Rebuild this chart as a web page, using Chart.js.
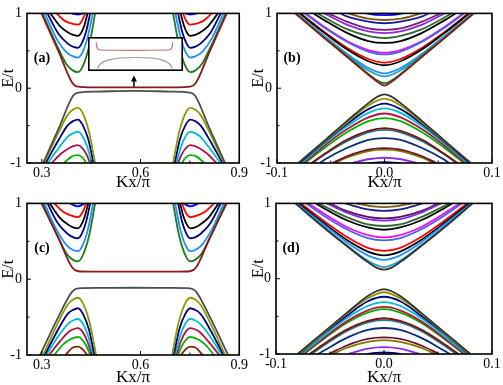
<!DOCTYPE html>
<html lang="en">
<head>
<meta charset="UTF-8">
<title>E/t vs Kx/π</title>
<script src="https://cdn.jsdelivr.net/npm/chart.js"></script>
<style>
  body { margin: 0; background: #fff; }
  #wrap { position: relative; width: 503px; height: 385px; }
  canvas { position: absolute; }
  #inset { background: #fff; }
</style>
</head>
<body>
<div id="wrap">
  <canvas id="panelA" width="250" height="190" style="left:0;top:0"></canvas>
  <canvas id="panelB" width="253" height="190" style="left:250px;top:0"></canvas>
  <canvas id="panelC" width="250" height="195" style="left:0;top:190px"></canvas>
  <canvas id="panelD" width="253" height="195" style="left:250px;top:190px"></canvas>
  <canvas id="inset" width="95" height="34" style="left:88px;top:37px"></canvas>
</div>
<script>
// ---- data ([Kx/pi, E/t] points) ----

// tick values
const ticksKxA = [0.3, 0.6, 0.9];
const minorKxA = [0.45, 0.75];
const ticksKxB = [-0.1, 0, 0.1];
const minorKxB = [-0.05, 0.05];
const ticksE = [-1, 0, 1];
const minorE = [-0.5, 0.5];

// panel (a): conduction bands, each band = one or two valleys
const condA = [
  [[[0.299,1],[0.35,0.50],[0.393,0.07],[0.41,0.02],[0.45,0.012],[0.58,0.01],[0.711,0.012],[0.751,0.02],[0.768,0.07],[0.811,0.50],[0.862,1]]],
  [[[0.302,1],[0.345,0.58],[0.375,0.32],[0.395,0.235],[0.41,0.215],[0.426,0.309],[0.444,0.568],[0.462,1]],
   [[0.699,1],[0.717,0.568],[0.735,0.309],[0.751,0.215],[0.766,0.235],[0.786,0.32],[0.816,0.58],[0.859,1]]],
  [[[0.309,1],[0.345,0.66],[0.375,0.48],[0.395,0.425],[0.41,0.41],[0.424,0.481],[0.439,0.676],[0.455,1]],
   [[0.706,1],[0.722,0.676],[0.737,0.481],[0.751,0.41],[0.766,0.425],[0.786,0.48],[0.816,0.66],[0.852,1]]],
  [[[0.317,1],[0.35,0.73],[0.378,0.60],[0.396,0.552],[0.41,0.54],[0.421,0.595],[0.434,0.747],[0.447,1]],
   [[0.714,1],[0.727,0.747],[0.74,0.595],[0.751,0.54],[0.765,0.552],[0.783,0.60],[0.811,0.73],[0.844,1]]],
  [[[0.326,1],[0.355,0.83],[0.38,0.745],[0.397,0.71],[0.41,0.70],[0.419,0.736],[0.429,0.835],[0.439,1]],
   [[0.722,1],[0.732,0.835],[0.742,0.736],[0.751,0.70],[0.764,0.71],[0.781,0.745],[0.806,0.83],[0.835,1]]],
  [[[0.345,1],[0.37,0.90],[0.395,0.86],[0.41,0.85],[0.417,0.868],[0.424,0.918],[0.432,1]],
   [[0.729,1],[0.737,0.918],[0.744,0.868],[0.751,0.85],[0.766,0.86],[0.791,0.90],[0.816,1]]],
  [[[0.39,1],[0.41,0.985],[0.425,1]], [[0.736,1],[0.751,0.985],[0.771,1]]]
];
const colorsCondA = ['#8b1a1a', '#1e7b1e', '#1e90ff', '#000080', '#000000', '#ff0000', '#0000ff'];

// panel (a): valence bands
const valA = [
  [[[0.304,-1],[0.352,-0.53],[0.395,-0.10],[0.41,-0.06],[0.47,-0.045],[0.58,-0.035],[0.691,-0.045],[0.751,-0.06],[0.766,-0.10],[0.809,-0.53],[0.857,-1]]],
  [[[0.307,-1],[0.35,-0.60],[0.378,-0.36],[0.395,-0.285],[0.41,-0.263],[0.426,-0.35],[0.444,-0.595],[0.462,-1]],
   [[0.699,-1],[0.717,-0.595],[0.735,-0.35],[0.751,-0.263],[0.766,-0.285],[0.783,-0.36],[0.811,-0.60],[0.854,-1]]],
  [[[0.312,-1],[0.35,-0.70],[0.378,-0.50],[0.395,-0.44],[0.41,-0.42],[0.424,-0.49],[0.441,-0.68],[0.457,-1]],
   [[0.704,-1],[0.72,-0.68],[0.737,-0.49],[0.751,-0.42],[0.766,-0.44],[0.783,-0.50],[0.811,-0.70],[0.849,-1]]],
  [[[0.318,-1],[0.355,-0.78],[0.38,-0.645],[0.396,-0.60],[0.41,-0.585],[0.423,-0.635],[0.437,-0.77],[0.452,-1]],
   [[0.709,-1],[0.724,-0.77],[0.738,-0.635],[0.751,-0.585],[0.765,-0.60],[0.781,-0.645],[0.806,-0.78],[0.843,-1]]],
  [[[0.33,-1],[0.36,-0.87],[0.385,-0.795],[0.398,-0.77],[0.41,-0.76],[0.421,-0.79],[0.434,-0.868],[0.447,-1]],
   [[0.714,-1],[0.727,-0.868],[0.74,-0.79],[0.751,-0.76],[0.763,-0.77],[0.776,-0.795],[0.801,-0.87],[0.831,-1]]],
  [[[0.368,-1],[0.39,-0.915],[0.41,-0.895],[0.42,-0.915],[0.428,-0.95],[0.435,-1]],
   [[0.726,-1],[0.733,-0.95],[0.741,-0.915],[0.751,-0.895],[0.771,-0.915],[0.793,-1]]]
];
const colorsValA = ['#4d4d4d', '#8c9a00', '#000080', '#00bcd4', '#b3123e', '#00b300'];

// panel (c)
const condC = [
  [[[0.299,1],[0.35,0.55],[0.393,0.15],[0.41,0.105],[0.45,0.10],[0.58,0.10],[0.711,0.10],[0.751,0.105],[0.768,0.15],[0.811,0.55],[0.862,1]]],
  [[[0.302,1],[0.345,0.59],[0.375,0.34],[0.395,0.255],[0.41,0.235],[0.426,0.327],[0.444,0.579],[0.462,1]],
   [[0.699,1],[0.717,0.579],[0.735,0.327],[0.751,0.235],[0.766,0.255],[0.786,0.34],[0.816,0.59],[0.859,1]]],
  [[[0.308,1],[0.345,0.65],[0.375,0.45],[0.395,0.385],[0.41,0.37],[0.424,0.446],[0.44,0.654],[0.456,1]],
   [[0.705,1],[0.721,0.654],[0.737,0.446],[0.751,0.37],[0.766,0.385],[0.786,0.45],[0.816,0.65],[0.853,1]]],
  [[[0.317,1],[0.35,0.73],[0.378,0.60],[0.396,0.552],[0.41,0.54],[0.421,0.595],[0.434,0.747],[0.447,1]],
   [[0.714,1],[0.727,0.747],[0.74,0.595],[0.751,0.54],[0.765,0.552],[0.783,0.60],[0.811,0.73],[0.844,1]]],
  [[[0.324,1],[0.355,0.81],[0.38,0.72],[0.397,0.68],[0.41,0.67],[0.419,0.71],[0.43,0.82],[0.441,1]],
   [[0.72,1],[0.731,0.82],[0.742,0.71],[0.751,0.67],[0.764,0.68],[0.781,0.72],[0.806,0.81],[0.837,1]]],
  [[[0.338,1],[0.365,0.89],[0.392,0.835],[0.41,0.82],[0.418,0.842],[0.426,0.90],[0.435,1]],
   [[0.726,1],[0.735,0.90],[0.743,0.842],[0.751,0.82],[0.769,0.835],[0.796,0.89],[0.823,1]]],
  [[[0.385,1],[0.41,0.96],[0.43,1]], [[0.731,1],[0.751,0.96],[0.776,1]]]
];
const colorsCondC = colorsCondA;

const valC = [
  [[[0.295,-1],[0.35,-0.50],[0.393,-0.16],[0.41,-0.12],[0.47,-0.115],[0.58,-0.113],[0.691,-0.115],[0.751,-0.12],[0.768,-0.16],[0.811,-0.50],[0.866,-1]]],
  [[[0.304,-1],[0.35,-0.57],[0.378,-0.34],[0.395,-0.267],[0.41,-0.245],[0.427,-0.336],[0.446,-0.585],[0.465,-1]],
   [[0.696,-1],[0.715,-0.585],[0.734,-0.336],[0.751,-0.245],[0.766,-0.267],[0.783,-0.34],[0.811,-0.57],[0.857,-1]]],
  [[[0.309,-1],[0.35,-0.66],[0.378,-0.46],[0.395,-0.405],[0.41,-0.383],[0.425,-0.457],[0.443,-0.661],[0.46,-1]],
   [[0.701,-1],[0.718,-0.661],[0.736,-0.457],[0.751,-0.383],[0.766,-0.405],[0.783,-0.46],[0.811,-0.66],[0.852,-1]]],
  [[[0.314,-1],[0.352,-0.74],[0.38,-0.59],[0.396,-0.542],[0.41,-0.525],[0.424,-0.582],[0.44,-0.739],[0.456,-1]],
   [[0.705,-1],[0.721,-0.739],[0.737,-0.582],[0.751,-0.525],[0.765,-0.542],[0.781,-0.59],[0.809,-0.74],[0.847,-1]]],
  [[[0.322,-1],[0.357,-0.81],[0.383,-0.69],[0.398,-0.657],[0.41,-0.645],[0.423,-0.688],[0.437,-0.805],[0.452,-1]],
   [[0.709,-1],[0.724,-0.805],[0.738,-0.688],[0.751,-0.645],[0.763,-0.657],[0.778,-0.69],[0.804,-0.81],[0.839,-1]]],
  [[[0.338,-1],[0.365,-0.86],[0.388,-0.79],[0.40,-0.77],[0.41,-0.761],[0.421,-0.79],[0.434,-0.868],[0.447,-1]],
   [[0.714,-1],[0.727,-0.868],[0.74,-0.79],[0.751,-0.761],[0.761,-0.77],[0.773,-0.79],[0.796,-0.86],[0.823,-1]]],
  [[[0.372,-1],[0.393,-0.905],[0.41,-0.89],[0.42,-0.91],[0.429,-0.95],[0.438,-1]],
   [[0.723,-1],[0.732,-0.95],[0.741,-0.91],[0.751,-0.89],[0.768,-0.905],[0.789,-1]]]
];
const colorsValC = ['#4d4d4d', '#8c9a00', '#000080', '#00bcd4', '#b3123e', '#00b300', '#8b2500'];

// panels (b) and (d) are symmetric about Kx = 0: only the Kx >= 0 half is listed
const condB = [
  [[0,0.035],[0.006,0.08],[0.015,0.18],[0.035,0.42],[0.055,0.66],[0.083,1]],
  [[0,0.066],[0.006,0.10],[0.015,0.19],[0.035,0.43],[0.055,0.66],[0.083,1]],
  [[0,0.158],[0.015,0.24],[0.035,0.45],[0.055,0.68],[0.082,1]],
  [[0,0.197],[0.015,0.27],[0.035,0.46],[0.055,0.69],[0.082,1]],
  [[0,0.307],[0.015,0.36],[0.035,0.52],[0.055,0.73],[0.079,1]],
  [[0,0.342],[0.015,0.39],[0.035,0.54],[0.055,0.74],[0.078,1]],
  [[0,0.452],[0.015,0.49],[0.035,0.62],[0.055,0.80],[0.074,1]],
  [[0,0.474],[0.015,0.51],[0.035,0.63],[0.055,0.81],[0.073,1]],
  [[0,0.605],[0.015,0.63],[0.035,0.74],[0.055,0.90],[0.066,1]],
  [[0,0.671],[0.015,0.70],[0.035,0.79],[0.055,0.94],[0.062,1]],
  [[0,0.737],[0.015,0.76],[0.035,0.85],[0.056,1]],
  [[0,0.78],[0.015,0.80],[0.035,0.89],[0.052,1]],
  [[0,0.868],[0.015,0.89],[0.035,0.96],[0.041,1]],
  [[0,0.912],[0.015,0.93],[0.034,1]],
  [[0,0.978],[0.008,0.98],[0.017,1]]
];
const colorsCondB = ['#8b1a1a', '#1e7b1e', '#1fa0c0', '#1e90ff', '#000000', '#ff0000', '#4169e1', '#ff00ff',
  '#000000', '#2e6b2e', '#8a2be2', '#7a1f7a', '#1c1c8c', '#7a5a10', '#0000ff'];

const valB = [
  [[0,-0.083],[0.006,-0.11],[0.015,-0.20],[0.035,-0.44],[0.055,-0.69],[0.080,-1]],
  [[0,-0.14],[0.015,-0.23],[0.035,-0.46],[0.055,-0.70],[0.080,-1]],
  [[0,-0.206],[0.015,-0.28],[0.035,-0.48],[0.055,-0.71],[0.079,-1]],
  [[0,-0.27],[0.015,-0.33],[0.035,-0.51],[0.055,-0.73],[0.077,-1]],
  [[0,-0.338],[0.015,-0.39],[0.035,-0.55],[0.055,-0.76],[0.075,-1]],
  [[0,-0.40],[0.015,-0.44],[0.035,-0.59],[0.055,-0.79],[0.074,-1]],
  [[0,-0.535],[0.015,-0.57],[0.035,-0.69],[0.055,-0.87],[0.068,-1]],
  [[0,-0.557],[0.015,-0.59],[0.035,-0.71],[0.055,-0.88],[0.067,-1]],
  [[0,-0.667],[0.015,-0.69],[0.035,-0.80],[0.055,-0.95],[0.060,-1]],
  [[0,-0.80],[0.015,-0.82],[0.035,-0.91],[0.048,-1]],
  [[0,-0.82],[0.015,-0.84],[0.035,-0.93],[0.046,-1]],
  [[0,-0.93],[0.015,-0.95],[0.030,-1]],
  [[0,-0.99],[0.008,-0.995],[0.015,-1]]
];
const colorsValB = ['#333333', '#8c9a00', '#000080', '#00bcd4', '#b3123e', '#00b300', '#7a1010', '#1f7a8c',
  '#0a2a7a', '#6b0f2a', '#7a7a00', '#8a2be2', '#000080'];

const condD = [
  [[0,0.12],[0.006,0.14],[0.015,0.22],[0.035,0.44],[0.055,0.67],[0.082,1]],
  [[0,0.155],[0.015,0.24],[0.035,0.45],[0.055,0.68],[0.082,1]],
  [[0,0.25],[0.015,0.31],[0.035,0.49],[0.055,0.71],[0.081,1]],
  [[0,0.31],[0.015,0.36],[0.035,0.52],[0.055,0.73],[0.079,1]],
  [[0,0.37],[0.015,0.41],[0.035,0.56],[0.055,0.76],[0.077,1]],
  [[0,0.51],[0.015,0.54],[0.035,0.66],[0.055,0.83],[0.072,1]],
  [[0,0.55],[0.015,0.58],[0.035,0.69],[0.055,0.86],[0.070,1]],
  [[0,0.65],[0.015,0.68],[0.035,0.78],[0.055,0.93],[0.063,1]],
  [[0,0.70],[0.015,0.72],[0.035,0.82],[0.055,0.96],[0.060,1]],
  [[0,0.77],[0.015,0.79],[0.035,0.88],[0.053,1]],
  [[0,0.80],[0.015,0.82],[0.035,0.90],[0.050,1]],
  [[0,0.90],[0.015,0.92],[0.036,1]],
  [[0,0.95],[0.010,0.96],[0.026,1]]
];
const colorsCondD = ['#333333', '#1fa0c0', '#1e90ff', '#000000', '#ff0000', '#4169e1', '#ff00ff', '#000000',
  '#2e6b2e', '#8a2be2', '#5a1a5a', '#1c1c8c', '#7a5a10'];

const valD = [
  [[0,-0.138],[0.006,-0.16],[0.015,-0.23],[0.035,-0.46],[0.055,-0.70],[0.080,-1]],
  [[0,-0.18],[0.015,-0.26],[0.035,-0.47],[0.055,-0.71],[0.079,-1]],
  [[0,-0.24],[0.015,-0.30],[0.035,-0.50],[0.055,-0.72],[0.078,-1]],
  [[0,-0.31],[0.015,-0.36],[0.035,-0.53],[0.055,-0.75],[0.076,-1]],
  [[0,-0.375],[0.015,-0.42],[0.035,-0.57],[0.055,-0.78],[0.075,-1]],
  [[0,-0.405],[0.015,-0.45],[0.035,-0.59],[0.055,-0.79],[0.074,-1]],
  [[0,-0.525],[0.015,-0.56],[0.035,-0.68],[0.055,-0.86],[0.069,-1]],
  [[0,-0.55],[0.015,-0.58],[0.035,-0.70],[0.055,-0.88],[0.067,-1]],
  [[0,-0.655],[0.015,-0.68],[0.035,-0.79],[0.055,-0.95],[0.061,-1]],
  [[0,-0.78],[0.015,-0.80],[0.035,-0.89],[0.051,-1]],
  [[0,-0.815],[0.015,-0.84],[0.035,-0.92],[0.047,-1]],
  [[0,-0.91],[0.015,-0.93],[0.033,-1]],
  [[0,-0.98],[0.008,-0.985],[0.016,-1]]
];
const colorsValD = colorsValB;

// inset of (a): magnified view of the two flat bands (own hidden scale)
const insetUpper = [[0.414,0.065],[0.418,0.03],[0.43,0.014],[0.58,0.012],[0.72,0.014],[0.733,0.03],[0.737,0.065]];
const insetLower = [[0.42,-0.105],[0.43,-0.08],[0.47,-0.05],[0.58,-0.035],[0.69,-0.05],[0.725,-0.08],[0.735,-0.105]];
const arrowKx = 0.58, arrowFromE = 0.02, arrowToE = 0.17;

// ---- drawing ----
const serif = '"Liberation Serif", "Times New Roman", serif';

function line(points, color) {
  return {
    data: points, borderColor: color, borderWidth: 1.8, pointRadius: 0,
    fill: false, cubicInterpolationMode: 'monotone'
  };
}

function mirror(half) {
  const left = half.slice(1).reverse().map(p => [-p[0], p[1]]);
  return left.concat(half);
}

function valleySets(bands, colors) {
  const out = [];
  bands.forEach((segs, i) => segs.forEach(s => out.push(line(s, colors[i]))));
  return out;
}

function coneSets(bands, colors) {
  return bands.map((half, i) => line(mirror(half), colors[i]));
}

// frame, inward ticks, panel tag, y title and the arrow
const decor = {
  id: 'decor',
  afterDatasetsDraw(chart, args, o) {
    const {ctx, chartArea: a, scales: {x, y}} = chart;
    ctx.save();
    ctx.strokeStyle = '#000';
    ctx.fillStyle = '#000';
    ctx.lineWidth = 1;
    ctx.beginPath();
    o.xMajor.forEach(v => { const px = x.getPixelForValue(v); ctx.moveTo(px, a.bottom); ctx.lineTo(px, a.bottom - 4); });
    o.xMinor.forEach(v => { const px = x.getPixelForValue(v); ctx.moveTo(px, a.bottom); ctx.lineTo(px, a.bottom - 2.5); });
    ticksE.forEach(v => { const py = y.getPixelForValue(v); ctx.moveTo(a.left, py); ctx.lineTo(a.left + 4, py); });
    minorE.forEach(v => { const py = y.getPixelForValue(v); ctx.moveTo(a.left, py); ctx.lineTo(a.left + 2.5, py); });
    ctx.stroke();

    ctx.lineWidth = 1.6;
    ctx.strokeRect(a.left, a.top, a.right - a.left, a.bottom - a.top);

    ctx.textAlign = 'center';
    ctx.textBaseline = 'middle';
    ctx.font = 'bold 14px ' + serif;
    ctx.fillText(o.tag, a.left + 15, a.top + 45);

    if (o.arrow) {
      const ax = x.getPixelForValue(arrowKx);
      const y0 = y.getPixelForValue(arrowFromE), y1 = y.getPixelForValue(arrowToE);
      ctx.lineWidth = 1.5;
      ctx.beginPath(); ctx.moveTo(ax, y0); ctx.lineTo(ax, y1 + 4); ctx.stroke();
      ctx.beginPath(); ctx.moveTo(ax, y1); ctx.lineTo(ax - 3, y1 + 6); ctx.lineTo(ax + 3, y1 + 6); ctx.closePath(); ctx.fill();
    }

    ctx.font = '16px ' + serif;
    ctx.translate(9, (a.top + a.bottom) / 2 - 10);
    ctx.rotate(-Math.PI / 2);
    ctx.fillText('E/t', 0, 0);
    ctx.restore();
  }
};

function panel(id, datasets, o) {
  return new Chart(document.getElementById(id), {
    type: 'line',
    data: { datasets },
    options: {
      responsive: false,
      animation: false,
      events: [],
      layout: { padding: { top: o.top, right: o.right, left: 0, bottom: 0 } },
      plugins: {
        legend: { display: false },
        tooltip: { enabled: false },
        decor: { tag: o.tag, xMajor: o.xTicks, xMinor: o.xMinor, arrow: o.arrow }
      },
      scales: {
        x: {
          type: 'linear', min: o.xMin, max: o.xMax,
          grid: { display: false, drawTicks: false }, border: { display: false },
          afterBuildTicks: s => { s.ticks = o.xTicks.map(v => ({ value: v })); },
          afterFit: s => { s.height = o.xHeight; },
          ticks: { color: '#000', font: { family: serif, size: 14 }, padding: 2, maxRotation: 0, autoSkip: false,
                   callback: v => v.toFixed(1) },
          title: { display: true, text: 'Kx/π', color: '#000', font: { family: serif, size: 17 },
                   padding: { top: 0, bottom: -3 } }
        },
        y: {
          type: 'linear', min: -1, max: 1,
          grid: { display: false, drawTicks: false }, border: { display: false },
          afterBuildTicks: s => { s.ticks = ticksE.map(v => ({ value: v })); },
          afterFit: s => { s.width = o.yWidth; },
          ticks: { color: '#000', font: { family: serif, size: 14 }, padding: 5, callback: v => String(v) }
        }
      }
    },
    plugins: [decor]
  });
}

panel('panelA', valleySets(valA, colorsValA).concat(valleySets(condA, colorsCondA)), {
  tag: '(a)', xMin: 0.255, xMax: 0.9, xTicks: ticksKxA, xMinor: minorKxA,
  top: 8, right: 9, xHeight: 27, yWidth: 27, arrow: true
});
panel('panelB', coneSets(valB, colorsValB).concat(coneSets(condB, colorsCondB)), {
  tag: '(b)', xMin: -0.1, xMax: 0.1, xTicks: ticksKxB, xMinor: minorKxB,
  top: 8, right: 11, xHeight: 27, yWidth: 27
});
panel('panelC', valleySets(valC, colorsValC).concat(valleySets(condC, colorsCondC)), {
  tag: '(c)', xMin: 0.255, xMax: 0.9, xTicks: ticksKxA, xMinor: minorKxA,
  top: 10, right: 9, xHeight: 30, yWidth: 27
});
panel('panelD', coneSets(valD, colorsValD).concat(coneSets(condD, colorsCondD)), {
  tag: '(d)', xMin: -0.1, xMax: 0.1, xTicks: ticksKxB, xMinor: minorKxB,
  top: 10, right: 11, xHeight: 31, yWidth: 26
});

// inset box of (a)
new Chart(document.getElementById('inset'), {
  type: 'line',
  data: {
    datasets: [
      { data: insetUpper, borderColor: '#c07878', borderWidth: 1.2, pointRadius: 0, cubicInterpolationMode: 'monotone' },
      { data: insetLower, borderColor: '#999999', borderWidth: 1.2, pointRadius: 0, cubicInterpolationMode: 'monotone' }
    ]
  },
  options: {
    responsive: false, animation: false, events: [],
    plugins: { legend: { display: false }, tooltip: { enabled: false } },
    scales: {
      x: { type: 'linear', min: 0.38, max: 0.78, display: false },
      y: { type: 'linear', min: -0.123, max: 0.099, display: false }
    }
  },
  plugins: [{
    id: 'box',
    afterDraw(chart) {
      const ctx = chart.ctx;
      ctx.save();
      ctx.lineWidth = 1.6;
      ctx.strokeStyle = '#000';
      ctx.strokeRect(0.8, 0.8, chart.width - 1.6, chart.height - 1.6);
      ctx.restore();
    }
  }]
});
</script>
</body>
</html>
